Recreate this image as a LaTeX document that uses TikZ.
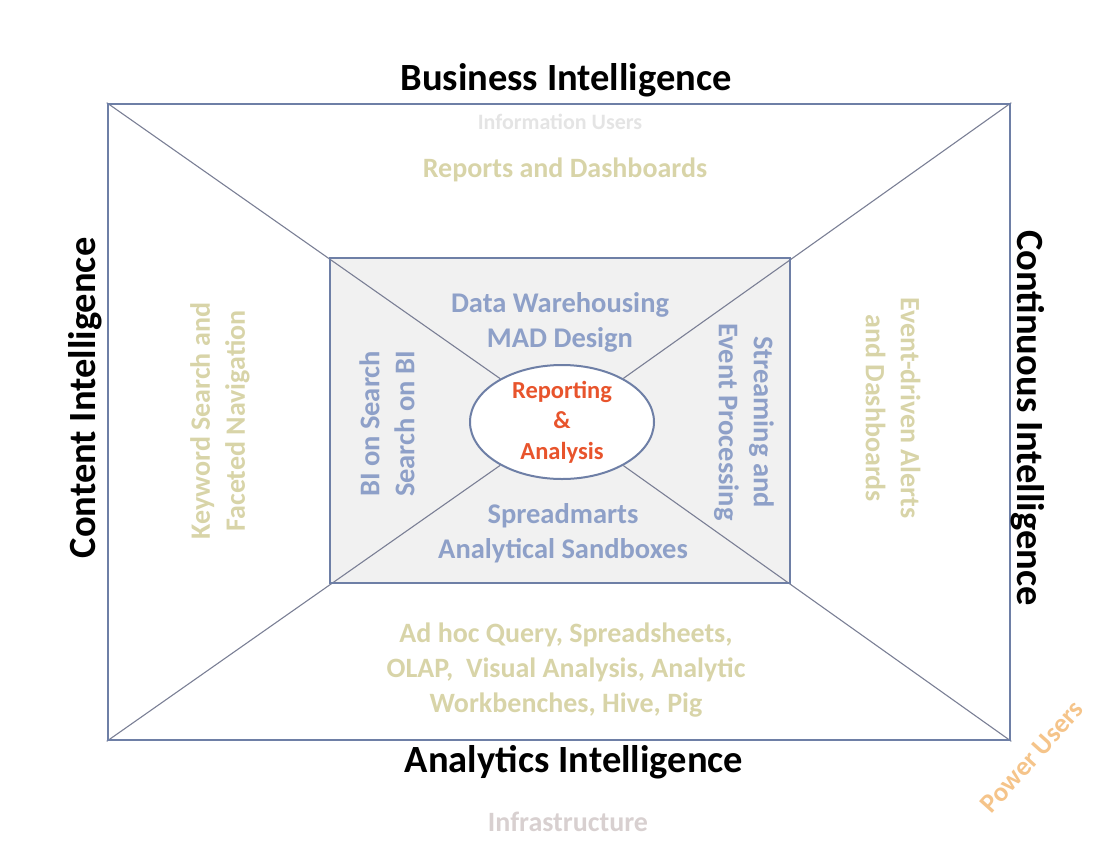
\documentclass[tikz,border=0pt]{standalone}
\usepackage{fontspec}
\setmainfont{Carlito}
\usetikzlibrary{shapes.geometric}
\definecolor{boxblue}{HTML}{6E7FA6}
\definecolor{diaggray}{HTML}{7A7F95}
\definecolor{innertext}{HTML}{8EA0C8}
\definecolor{faintyellow}{HTML}{D8D4A8}
\definecolor{repred}{HTML}{E8542C}
\definecolor{powerorange}{HTML}{F5C48A}
\definecolor{innerfill}{HTML}{F1F1F1}
\definecolor{faintgray}{HTML}{D8D0D0}
\definecolor{ghost}{HTML}{E4E4E4}
\tikzset{
  frame/.style={draw=boxblue, line width=2.6pt, inner sep=0pt},
  diag/.style={draw=diaggray, line width=1.1pt},
  title/.style={font=\fontsize{38.5}{42}\selectfont\bfseries, text=black, inner sep=0pt},
  outertxt/.style={font=\fontsize{28}{35}\selectfont\bfseries, text=faintyellow, align=center, inner sep=0pt},
  innertxt/.style={font=\fontsize{28.5}{35}\selectfont\bfseries, text=innertext, align=center, inner sep=0pt},
  centertxt/.style={font=\fontsize{24.5}{30.5}\selectfont\bfseries, text=repred, align=center, inner sep=0pt},
}
\begin{document}
\begin{tikzpicture}[x=1pt,y=-1pt]
\useasboundingbox (0,0) rectangle (1118,854);
% inner box fill
\node[frame, draw=none, fill=innerfill, minimum width=460pt, minimum height=325pt] (innerbg) at (560,420.5) {};
% rectangles
\node[frame, minimum width=902pt, minimum height=636pt] (outer) at (559,422) {};
\node[frame, minimum width=460pt, minimum height=325pt] (inner) at (560,420.5) {};
% central ellipse
\node[ellipse, draw=boxblue, line width=2pt, fill=white, minimum width=184pt, minimum height=114pt, inner sep=0pt] (ell) at (562,422) {};
% diagonals
\draw[diag] (outer.north west) -- (ell);
\draw[diag] (outer.north east) -- (ell);
\draw[diag] (outer.south west) -- (ell);
\draw[diag] (outer.south east) -- (ell);
% redraw frames on top
\node[frame, minimum width=902pt, minimum height=636pt] (outerf) at (559,422) {};
\node[frame, minimum width=460pt, minimum height=325pt] (innerf) at (560,420.5) {};
\node[centertxt] (rep) at (562,422) {Reporting\\\&\\Analysis};
% titles
\node[title] (bi) at (566,80) {Business Intelligence};
\node[title] (ai) at (574,762) {Analytics Intelligence};
\node[title, rotate=90] (ci) at (85,398) {Content Intelligence};
\node[title, rotate=-90] (coi) at (1028,418) {Continuous Intelligence};
% faint outer texts
\node[font=\fontsize{22}{24}\selectfont\bfseries, text=ghost, inner sep=0pt] (iu) at (560,122) {Information Users};
\node[outertxt] (rd) at (565,170) {Reports and Dashboards};
\node[outertxt, rotate=90] (kw) at (220,421) {Keyword Search and\\Faceted Navigation};
\node[outertxt, rotate=-90] (ev) at (893,408) {Event-driven Alerts\\and Dashboards};
\node[outertxt] (ah) at (566,670) {Ad hoc Query, Spreadsheets,\\OLAP,~~Visual Analysis, Analytic\\Workbenches, Hive, Pig};
\node[outertxt, text=faintgray] (inf) at (568,822) {Infrastructure};
\node[font=\fontsize{27}{30}\selectfont\bfseries, text=powerorange, rotate=48, inner sep=0pt] (pu) at (1032,757) {Power Users};
% inner texts
\node[innertxt] (dw) at (560,322) {Data Warehousing\\MAD Design};
\node[innertxt, rotate=90] (bs) at (387,424) {BI on Search\\Search on BI};
\node[innertxt, rotate=-90] (se) at (744,422) {Streaming and\\Event Processing};
\node[innertxt] (sm) at (563,533) {Spreadmarts\\Analytical Sandboxes};
\end{tikzpicture}
\end{document}
